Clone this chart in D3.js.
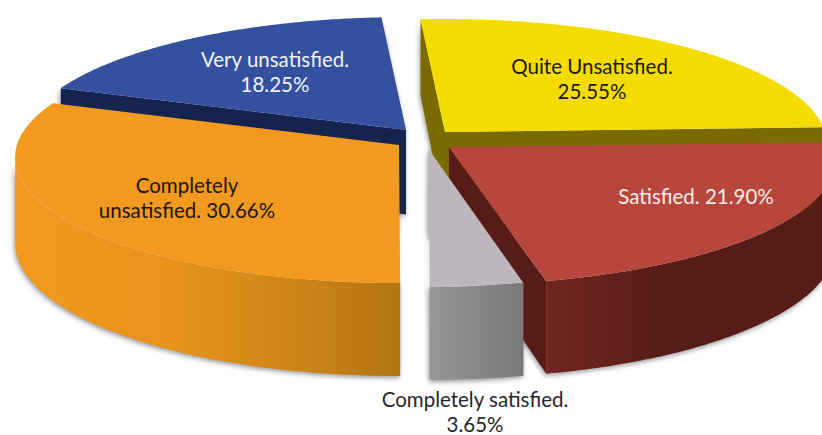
<!DOCTYPE html>
<html>
<head>
<meta charset="utf-8">
<script src="https://cdn.jsdelivr.net/npm/d3@7/dist/d3.min.js"></script>
<style>
html,body{margin:0;padding:0;background:#fff;overflow:hidden}
svg{display:block}
text{font-family:Lato,"Open Sans",sans-serif;font-size:20.5px;text-anchor:middle}
</style>
</head>
<body>
<svg id="c" width="822" height="435"></svg>
<script>
// Data, clockwise from the top of the pie
const categories = ["Quite Unsatisfied.", "Satisfied.", "Completely satisfied.", "Completely unsatisfied.", "Very unsatisfied."];
const percentages = [25.55, 21.90, 3.65, 30.66, 18.25];
const labelLines = [
  ["Quite Unsatisfied.", "25.55%"],
  ["Satisfied. 21.90%"],
  ["Completely satisfied.", "3.65%"],
  ["Completely", "unsatisfied. 30.66%"],
  ["Very unsatisfied.", "18.25%"]
];

// Styles and layout
const topColours = ["#F5DC00", "#B7473C", "#BDB7BD", "#F2991F", "#34509F"];
const wallColours = ["#7A6A00", "#571C18", "#8A878B", "#C9821A", "#14244F"];
const labelColours = ["#1c1a05", "#f6ecea", "#26262a", "#20160a", "#f2f4fa"];
const apexX = [445, 449, 428.5, 399, 406];
const apexY = [132, 147, 149, 145, 130];
const radiusX = [380, 385, 376, 382, 381];
const labelX = [592, 696, 475, 187, 275];
const labelY = [74, 204, 407, 193, 67];
const lineStep = 24.5;
const startDeg = -4.1, ry = 125.5, persp = 0.1, depth0 = 84.5;

const svg = d3.select("#c");
const defs = svg.append("defs");
const blur = defs.append("filter").attr("id", "soft")
  .attr("x", "-10%").attr("y", "-10%").attr("width", "120%").attr("height", "120%");
blur.append("feGaussianBlur").attr("stdDeviation", 2.6);

function ramp(id, x1, x2, stops) {
  const g = defs.append("linearGradient").attr("id", id)
    .attr("gradientUnits", "userSpaceOnUse")
    .attr("x1", x1).attr("x2", x2).attr("y1", 0).attr("y2", 0);
  stops.forEach(s => g.append("stop").attr("offset", s[0]).attr("stop-color", s[1]));
  return "url(#" + id + ")";
}
const outerFill = [
  wallColours[0],
  ramp("wr", 545, 660, [[0, "#72261F"], [1, "#571C18"]]),
  ramp("wg", 428, 523, [[0, "#9A979B"], [1, "#7A777B"]]),
  ramp("wo", 16, 398, [[0, "#F2991F"], [0.4, "#E8931C"], [0.75, "#CC8416"], [1, "#B27412"]]),
  wallColours[4]
];

const pie = d3.pie().sort(null).value(d => d)
  .startAngle(startDeg * Math.PI / 180)
  .endAngle(startDeg * Math.PI / 180 + 2 * Math.PI);
const arcs = pie(percentages);

function project(i, a, lower) {
  const X = Math.sin(a), Y = -Math.cos(a), s = 1 + persp * Y;
  return [apexX[i] + X * radiusX[i] * s, apexY[i] + Y * ry * s + (lower ? depth0 * s : 0)];
}
function apex(i, lower) { return [apexX[i], apexY[i] + (lower ? depth0 : 0)]; }
function angles(a0, a1) {
  return d3.range(0, 121).map(k => a0 + (a1 - a0) * k / 120);
}
// The outer wall only exists between the side extremes of the rim, on the viewer's side
function frontAngles(a0, a1) {
  return angles(a0, a1).filter(a => {
    const d = Math.cos(a) * (1 - persp * Math.cos(a)) + persp * Math.sin(a) * Math.sin(a);
    return d <= 0;
  });
}
const line = d3.line();
const closed = pts => line(pts) + "Z";

const shapes = arcs.map((d, i) => {
  const a0 = d.startAngle, a1 = d.endAngle;
  const rim = angles(a0, a1);
  const front = frontAngles(a0, a1);
  return {
    i,
    top: closed([apex(i, false), ...rim.map(a => project(i, a, false))]),
    outer: front.length
      ? closed([...front.map(a => project(i, a, false)), ...front.slice().reverse().map(a => project(i, a, true))])
      : "",
    wallStart: closed([apex(i, false), project(i, a0, false), project(i, a0, true), apex(i, true)]),
    wallEnd: closed([apex(i, false), project(i, a1, false), project(i, a1, true), apex(i, true)])
  };
});

// Paint order, back to front
const order = [4, 0, 1, 2, 3];

// Soft shadow layer beneath everything
const shadow = svg.append("g").attr("filter", "url(#soft)").attr("transform", "translate(-1,2)")
  .attr("fill", "#77777c").attr("opacity", 0.75);
order.forEach(i => {
  const s = shapes[i];
  [s.outer, s.wallStart, s.wallEnd].forEach(p => { if (p) shadow.append("path").attr("d", p); });
});

order.forEach(i => {
  const s = shapes[i], g = svg.append("g");
  // radial walls that face the viewer
  if (i === 0) g.append("path").attr("d", s.wallStart).attr("fill", wallColours[i]);
  if (i === 0 || i === 1) g.append("path").attr("d", s.wallEnd).attr("fill", wallColours[i]);
  if (i === 4) g.append("path").attr("d", s.wallStart).attr("fill", wallColours[i]);
  if (s.outer && i !== 0 && i !== 4) g.append("path").attr("d", s.outer).attr("fill", outerFill[i]);
  g.append("path").attr("d", s.top).attr("fill", topColours[i]);
});

// Labels
labelLines.forEach((lines, i) => {
  const t = svg.append("text").attr("data-category", categories[i]).attr("fill", labelColours[i]);
  lines.forEach((l, k) => t.append("tspan")
    .attr("x", labelX[i]).attr("y", labelY[i] + k * lineStep).text(l));
});
</script>
</body>
</html>
